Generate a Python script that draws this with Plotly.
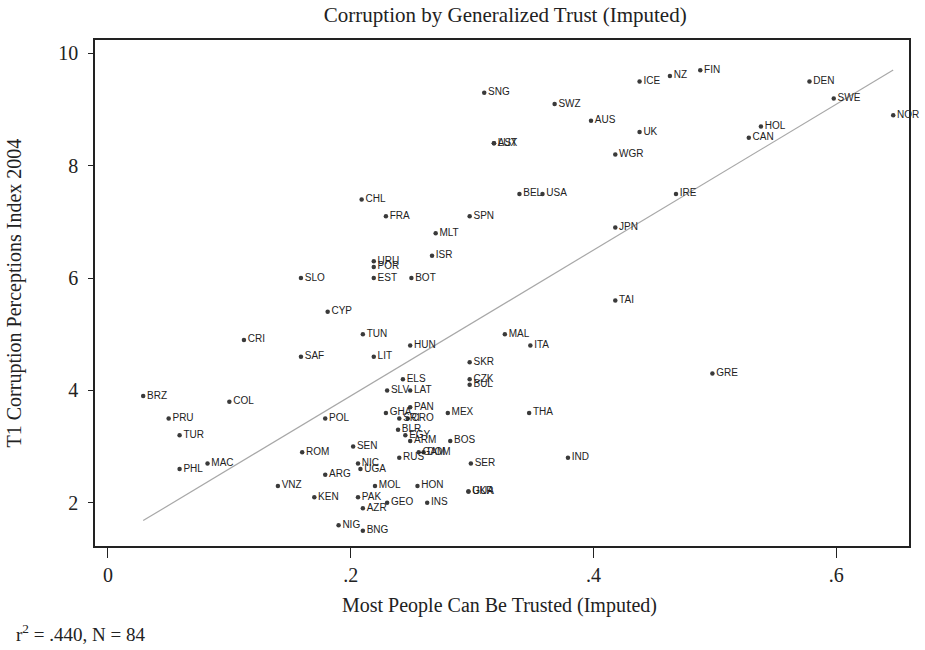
import numpy as np
import plotly.graph_objects as go

countries = ["CHL","FRA","SNG","SWZ","AUS","ICE","NZ","FIN","UK","WGR","AST","LUX","BEL","USA","SPN","JPN","IRE",
             "DEN","SWE","NOR","HOL","CAN","URU","POR","EST","SLO","CYP","TUN","CRI","SAF","LIT","BRZ","HUN",
             "MLT","ISR","BOT","TAI","MAL","ITA","SKR","CZK","BUL","ELS","GRE","SLV","LAT","PAN","GHA","SRI","CRO",
             "MEX","BLR","EGY","ARM","BOS","RUS","DOM","GAM","COL","PRU","TUR","PHL","MAC","VNZ",
             "POL","ROM","SEN","NIC","UGA","ARG","MOL","HON","KEN","PAK","GEO","INS","AZR","NIG","BNG",
             "THA","SER","IND","GUA","UKR"]
trust = [0.209,0.229,0.310,0.368,0.398,0.438,0.463,0.488,0.438,0.418,0.318,0.318,0.339,0.358,0.298,0.418,0.468,
         0.578,0.598,0.647,0.538,0.528,0.219,0.219,0.219,0.159,0.181,0.210,0.112,0.159,0.219,0.029,0.249,
         0.270,0.267,0.250,0.418,0.327,0.348,0.298,0.298,0.298,0.243,0.498,0.230,0.249,0.249,0.229,0.240,0.247,
         0.280,0.239,0.245,0.249,0.282,0.240,0.260,0.256,0.100,0.050,0.059,0.059,0.082,0.140,
         0.179,0.160,0.202,0.206,0.208,0.179,0.220,0.255,0.170,0.206,0.230,0.263,0.210,0.190,0.210,
         0.347,0.299,0.379,0.297,0.297]
cpi = [7.4,7.1,9.3,9.1,8.8,9.5,9.6,9.7,8.6,8.2,8.4,8.4,7.5,7.5,7.1,6.9,7.5,
       9.5,9.2,8.9,8.7,8.5,6.3,6.2,6.0,6.0,5.4,5.0,4.9,4.6,4.6,3.9,4.8,
       6.8,6.4,6.0,5.6,5.0,4.8,4.5,4.2,4.1,4.2,4.3,4.0,4.0,3.7,3.6,3.5,3.5,
       3.6,3.3,3.2,3.1,3.1,2.8,2.9,2.9,3.8,3.5,3.2,2.6,2.7,2.3,
       3.5,2.9,3.0,2.7,2.6,2.5,2.3,2.3,2.1,2.1,2.0,2.0,1.9,1.6,1.5,
       3.6,2.7,2.8,2.2,2.2]

x_ticks = [0, 0.2, 0.4, 0.6]
x_ticktext = ["0", ".2", ".4", ".6"]
y_ticks = [2, 4, 6, 8, 10]

tx = np.array(trust)
cy = np.array(cpi)
slope, intercept = np.polyfit(tx, cy, 1)
r2 = np.corrcoef(tx, cy)[0, 1] ** 2
lx = np.array([tx.min(), tx.max()])
ly = intercept + slope * lx

serif = "Liberation Serif, Times New Roman, serif"
ink = "#222222"

fig = go.Figure()
fig.add_trace(go.Scatter(x=lx, y=ly, mode="lines", line=dict(color="#a8a8a8", width=1.2),
                         hoverinfo="skip", showlegend=False))
fig.add_trace(go.Scatter(x=trust, y=cpi, mode="markers+text", text=countries,
                         textposition="middle right", cliponaxis=False,
                         textfont=dict(family="Liberation Sans, Arial, sans-serif", size=10, color=ink),
                         marker=dict(size=4.5, color="#3a3a3a"), showlegend=False))

fig.update_layout(
    width=925, height=650,
    margin=dict(l=95, r=16, t=40, b=104, autoexpand=False),
    paper_bgcolor="white", plot_bgcolor="white",
    title=dict(text="Corruption by Generalized Trust (Imputed)", xref="paper", x=0.504, xanchor="center",
               yref="container", y=0.978, yanchor="middle", font=dict(family=serif, size=21, color=ink)),
    xaxis=dict(range=[-0.0107, 0.660], tickvals=x_ticks, ticktext=x_ticktext, automargin=False,
               showgrid=False, zeroline=False, showline=True, linecolor=ink, linewidth=1.5,
               mirror=True, ticks="outside", ticklen=10, tickcolor=ink,
               tickfont=dict(family=serif, size=20, color=ink)),
    yaxis=dict(range=[1.23, 10.24], tickvals=y_ticks, automargin=False,
               showgrid=False, zeroline=False, showline=True, linecolor=ink, linewidth=1.5,
               mirror=True, ticks="outside", ticklen=5, tickcolor=ink, ticklabelstandoff=6,
               tickfont=dict(family=serif, size=20, color=ink)),
)
fig.add_annotation(text="Most People Can Be Trusted (Imputed)", xref="paper", yref="paper",
                   x=0.4975, y=-0.118, xanchor="center", yanchor="middle", showarrow=False,
                   font=dict(family=serif, size=20, color=ink))
fig.add_annotation(text="T1 Corruption Perceptions Index 2004", xref="paper", yref="paper",
                   x=-0.0983, y=0.501, xanchor="center", yanchor="middle", textangle=-90, showarrow=False,
                   font=dict(family=serif, size=20, color=ink))
fig.add_annotation(text="r<sup>2</sup> = %s, N = %d" % (("%.3f" % r2).lstrip("0"), len(trust)),
                   xref="paper", yref="paper", x=-0.1, y=-0.172, xanchor="left", yanchor="middle",
                   showarrow=False, font=dict(family=serif, size=19, color=ink))

fig.write_html("out.html", config={"displayModeBar": False},
               post_script="document.body.style.margin='0px';")
